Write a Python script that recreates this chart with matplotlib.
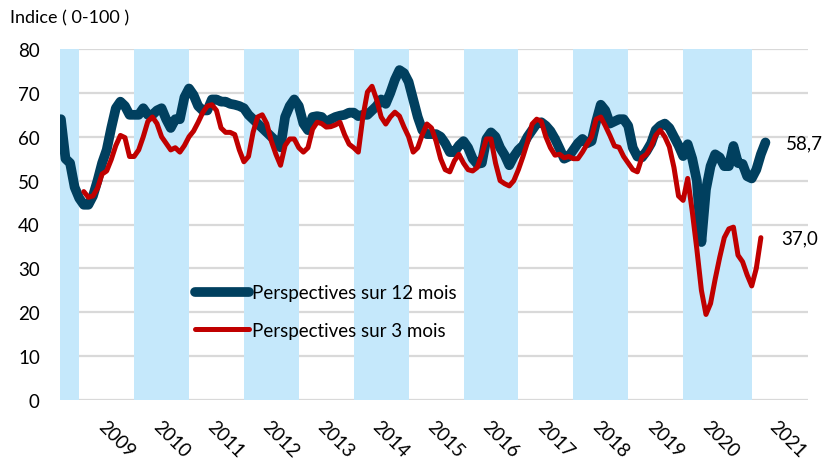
import matplotlib
matplotlib.use("Agg")
import matplotlib.pyplot as plt
import numpy as np

plt.rcParams['font.family'] = ['Lato', 'DejaVu Sans']

# monthly survey index, first point Sep 2008
persp_12m = [64, 55, 54, 48.5, 46, 44.5, 44.5, 46.5, 50, 54,
             57, 62, 66.5, 68, 67, 65, 65, 65, 66.5, 65,
             65, 66, 66.5, 64, 62, 64, 64, 69, 71, 69.5,
             67, 66, 66, 68.5, 68.5, 68, 68, 67.5, 67.3, 67,
             66.5, 65, 64, 63, 62, 61, 60, 59, 57.6, 64.5,
             67, 68.5, 67, 63, 61.5, 64.5, 64.7, 64.5, 63.3, 64,
             64.5, 64.8, 65, 65.5, 65.5, 64.7, 65, 65, 66, 67,
             68.5, 67.5, 70, 73, 75.2, 74.5, 72.5, 68.5, 64.5, 61.5,
             60.6, 60.6, 60.6, 60, 58.5, 56.5, 56.5, 58, 59, 57.5,
             55, 53.8, 54, 59.5, 61, 60, 57.5, 55.8, 53.5, 55.5,
             57, 58, 60, 61.5, 63, 63.3, 62.5, 61.3, 59.5, 57.3,
             55, 55.5, 57, 58.5, 59.5, 58.5, 59, 63.5, 67.3, 66,
             63, 63.5, 64, 64, 62.5, 57.5, 55.5, 55.3, 56.7, 58.5,
             61.5, 62.5, 63, 62, 60, 58, 55.6, 58.3, 55, 50,
             36, 48, 53.3, 56, 55.3, 53.3, 53.3, 57.9, 54, 53.8,
             51, 50.5, 52.5, 56, 58.7]

# 3-month outlook starts five months later (Feb 2009)
persp_3m_start = 5
persp_3m = [47.5, 46.2, 46.5, 48.3, 51.5, 52.2, 54.8, 58, 60.3, 59.8,
            55.5, 55.5, 57, 60, 63.5, 64.5, 63, 60, 58.5, 57,
            57.5, 56.5, 58, 60, 61.3, 63.3, 65.5, 67, 67.3, 66,
            62, 61, 61, 60.5, 57, 54.3, 55.5, 61, 64.5, 65,
            63, 59, 56, 53.5, 58, 59.5, 59.5, 57.5, 56.5, 57.5,
            61.7, 63.3, 63, 62.2, 62.3, 62.7, 63.3, 60.5, 58.3, 57.5,
            56.5, 64.5, 70.2, 71.5, 68.5, 64.5, 62.9, 64.5, 65.6, 64.7,
            62.2, 60, 56.5, 57.5, 60.5, 62.9, 62, 59, 55, 52.5,
            52, 54.5, 56, 54, 52.5, 52.2, 53, 56, 59.5, 59.5,
            54, 50, 49.3, 48.8, 50, 52.5, 55.5, 58.8, 62.9, 64,
            63.5, 60, 57.5, 55.8, 56, 55.2, 55.5, 55, 55, 56.5,
            58.3, 60, 64, 64.5, 62.5, 60.3, 57.9, 57.6, 55.5, 54,
            52.5, 52, 55.3, 56, 57.8, 60.3, 61.5, 60, 57.7, 53,
            46.5, 45.5, 50.5, 43, 34.4, 25, 19.5, 22, 27.5, 32.5,
            37, 39, 39.4, 33, 31.5, 28.5, 26, 30, 37.0]

years = ['2009', '2010', '2011', '2012', '2013', '2014', '2015',
         '2016', '2017', '2018', '2019', '2020', '2021']
year_pos = [10, 22, 34, 46, 58, 70, 82, 94, 106, 118, 130, 142, 156.8]
# shaded periods (month index)
shade = [(-0.2, 4), (16, 28), (40, 52), (64, 76), (88, 100), (112, 124), (136, 151)]

blue = '#01405F'
red = '#C00000'
fs = 13.5

fig = plt.figure(figsize=(8.22, 4.6), dpi=100)
ax = fig.add_axes([60 / 822, 59 / 460, 748 / 822, 351 / 460])

x12 = np.arange(len(persp_12m))
x3 = np.arange(len(persp_3m)) + persp_3m_start

for a, b in shade:
    ax.axvspan(a, b, color='#C5E8FB', lw=0, zorder=1)

for yv in range(0, 81, 10):
    ax.axhline(yv, color='#D9D9D9', lw=1.6, zorder=0)

l12, = ax.plot(x12, persp_12m, color=blue, lw=7, solid_capstyle='round',
               solid_joinstyle='round', zorder=3)
l3, = ax.plot(x3, persp_3m, color=red, lw=3.6, solid_capstyle='round',
              solid_joinstyle='round', zorder=4)

ax.set_xlim(-0.2, 163.3)
ax.set_ylim(0, 80)
ax.set_yticks(range(0, 81, 10))
ax.tick_params(axis='y', length=0, pad=14.5, labelsize=fs)
ax.set_xticks(year_pos)
ax.set_xticklabels(years, rotation=-45, ha='left', va='top',
                   rotation_mode='anchor', fontsize=fs)
ax.tick_params(axis='x', length=0, pad=12)
for s in ax.spines.values():
    s.set_visible(False)

ax.annotate(f"{persp_12m[-1]:.1f}".replace('.', ','), (x12[-1], persp_12m[-1]),
            xytext=(20, 0), textcoords='offset pixels', va='center', fontsize=fs)
ax.annotate(f"{persp_3m[-1]:.1f}".replace('.', ','), (x3[-1], persp_3m[-1]),
            xytext=(20, 0), textcoords='offset pixels', va='center', fontsize=fs)

ax.legend([l12, l3], ['Perspectives sur 12 mois', 'Perspectives sur 3 mois'],
          loc='upper left', bbox_to_anchor=(0.1805, 0.33), frameon=False,
          borderpad=0, borderaxespad=0, handlelength=2.9, handletextpad=0.15,
          labelspacing=1.1, fontsize=fs)

fig.text(10 / 822, 1 - 18 / 460, 'Indice ( 0-100 )', fontsize=13, va='center')

fig.savefig('out.png', dpi=100)
